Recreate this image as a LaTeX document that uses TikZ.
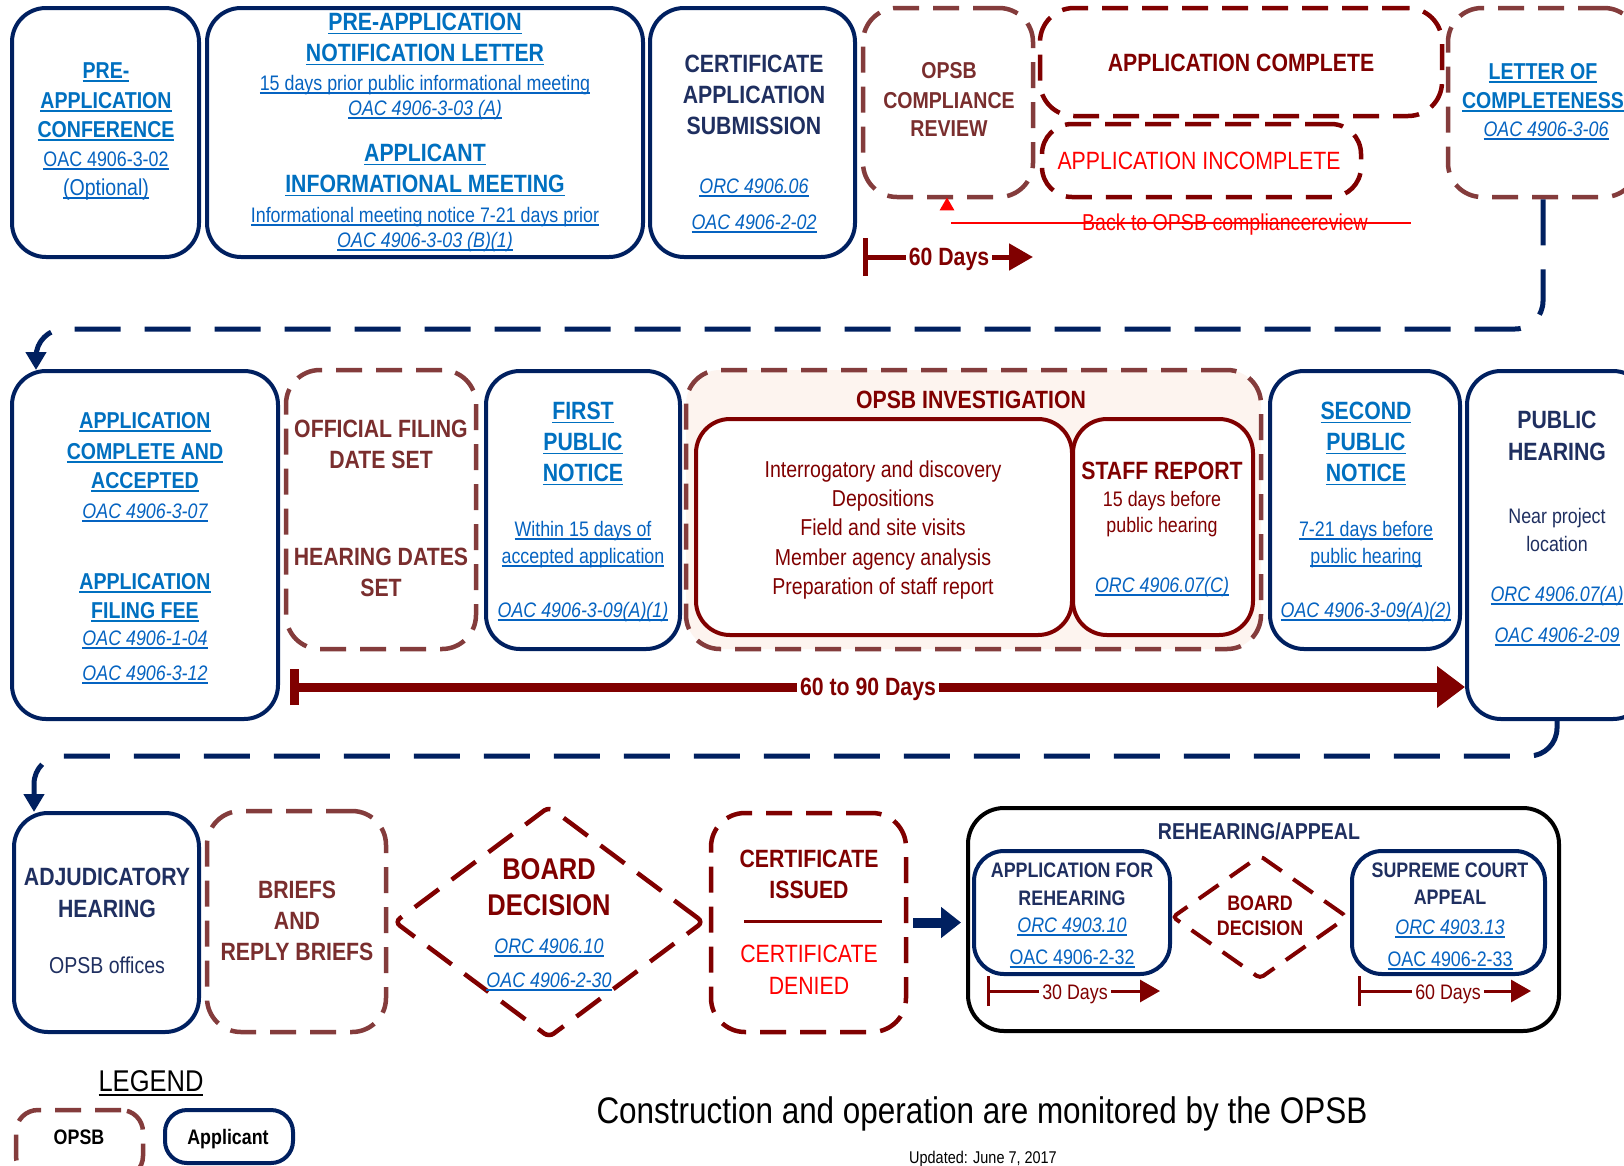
\documentclass[tikz,border=0pt]{standalone}
\usepackage{fontspec}
\setmainfont{Liberation Sans}[FakeStretch=0.85]
\usetikzlibrary{arrows.meta,shapes.geometric,fit,calc}
\definecolor{navy}{HTML}{002060}
\definecolor{navyt}{HTML}{1F2F60}
\definecolor{lnk}{HTML}{0563C1}
\definecolor{lnkh}{HTML}{0070C0}
\definecolor{dred}{HTML}{800000}
\definecolor{brn}{HTML}{843C3C}
\definecolor{brnt}{HTML}{7A2E2E}
\definecolor{bred}{HTML}{FF0000}
\definecolor{invfill}{HTML}{FDF4EF}
\newsavebox\ulbox
\newcommand\ulx[1]{\sbox\ulbox{#1}\rlap{\rule[-0.14em]{\wd\ulbox}{0.065em}}\usebox\ulbox}
\newcommand\fz[1]{\fontsize{#1}{#1}\selectfont}
\newcommand\mytx[5]{\node[tx,#4] (#1) at (#2,#3) {#5};}
\newcommand\myul[5]{\node[tx,#4] (#1) at (#2,#3) {\ulx{#5}};}
\begin{document}
\begin{tikzpicture}[x=1pt,y=-1pt,
  abox/.style={draw=navy, line width=4pt, rounded corners=34pt, inner sep=0pt},
  obox/.style={draw=brn, line width=4.5pt, dash pattern=on 26pt off 14pt, rounded corners=34pt, inner sep=0pt},
  rbox/.style={obox, draw=dred},
  rsol/.style={draw=dred, line width=4pt, rounded corners=34pt, inner sep=0pt, fill=white},
  tx/.style={anchor=mid, inner sep=0pt, yshift=-6pt},
  lh/.style={text=lnkh, font=\fz{#1}\bfseries}, lh/.default=25,
  lr/.style={text=lnk, font=\fz{#1}}, lr/.default=21,
  li/.style={text=lnk, font=\fz{#1}\itshape}, li/.default=21,
  nh/.style={text=navyt, font=\fz{#1}\bfseries}, nh/.default=25,
  nr/.style={text=navyt, font=\fz{#1}}, nr/.default=21,
  rh/.style={text=dred, font=\fz{#1}\bfseries}, rh/.default=25,
  rr/.style={text=dred, font=\fz{#1}}, rr/.default=23,
  bh/.style={text=brnt, font=\fz{#1}\bfseries}, bh/.default=25,
  brr/.style={text=bred, font=\fz{#1}}, brr/.default=25,
  conn/.style={draw=navy, line width=5pt, dash pattern=on 46pt off 24pt, rounded corners=28pt, -{Triangle[length=18pt,width=20pt]}},
  durA/.style={draw=dred, line width=5pt, {Bar[width=38pt]}-{Triangle[length=24pt,width=26pt]}},
  durB/.style={draw=dred, line width=9pt, {Bar[width=36pt]}-{Triangle[length=28pt,width=40pt]}},
  durC/.style={draw=dred, line width=3pt, {Bar[width=30pt]}-{Triangle[length=20pt,width=22pt]}},
  lab/.style={fill=white, inner xsep=3pt, inner ysep=2pt}
]
\path[use as bounding box] (0,0) rectangle (1624,1165);
\clip (0,0) rectangle (1624,1165);
\fill[white] (0,0) rectangle (1624,1165);

% ---------------- Row 1 ----------------
\node[abox, fit={(12,8) (199,257)}] (pac) {};
\node[abox, fit={(207,8) (643,257)}] (pan) {};
\node[abox, fit={(650,8) (855,257)}] (cas) {};
\node[obox, fit={(863,8) (1033,197)}] (ocr) {};
\node[rbox, fit={(1040,8) (1442,116)}] (acm) {};
\node[rbox, fit={(1042,124) (1361,197)}, rounded corners=30pt] (aic) {};
\node[obox, fit={(1448,8) (1638,197)}] (loc) {};

\myul{t1}{106}{70}{lh=23}{PRE-}
\myul{t2}{106}{100}{lh=23}{APPLICATION}
\myul{t3}{106}{129}{lh=23}{CONFERENCE}
\myul{t4}{106}{158}{lr=21}{OAC 4906-3-02}
\myul{t5}{106}{187}{lr=23}{(Optional)}

\myul{t6}{425}{22}{lh}{PRE-APPLICATION}
\myul{t7}{425}{53}{lh}{NOTIFICATION LETTER}
\myul{t8}{425}{82}{lr}{15 days prior public informational meeting}
\myul{t9}{425}{107}{li}{OAC 4906-3-03 (A)}
\myul{t10}{425}{153}{lh}{APPLICANT}
\myul{t11}{425}{184}{lh}{INFORMATIONAL MEETING}
\myul{t12}{425}{214}{lr}{Informational meeting notice 7-21 days prior}
\myul{t13}{425}{239}{li}{OAC 4906-3-03 (B)(1)}

\mytx{t14}{754}{64}{nh}{CERTIFICATE}
\mytx{t15}{754}{95}{nh}{APPLICATION}
\mytx{t16}{754}{126}{nh}{SUBMISSION}
\myul{t17}{754}{185}{li}{ORC 4906.06}
\myul{t18}{754}{221}{li}{OAC 4906-2-02}

\mytx{t19}{949}{70}{bh=23}{OPSB}
\mytx{t20}{949}{100}{bh=23}{COMPLIANCE}
\mytx{t21}{949}{128}{bh=23}{REVIEW}
\mytx{t22}{1241}{63}{rh}{APPLICATION COMPLETE}
\mytx{t23}{1199}{161}{brr}{APPLICATION INCOMPLETE}
\myul{t24}{1543}{71}{lh=23}{LETTER OF}
\myul{t25}{1543}{100}{lh=23}{COMPLETENESS}
\myul{t26}{1546}{128}{li}{OAC 4906-3-06}

% back to compliance review
\node[regular polygon, regular polygon sides=3, fill=bred, minimum size=17pt, inner sep=0pt] (tri) at (947,206) {};
\coordinate (bk1) at (951,223);
\coordinate (bk2) at (1411,223);
\draw[bred, line width=1.5pt] (bk1) -- (bk2);
\mytx{t27}{1225}{222}{brr=23}{Back to OPSB compliancereview}

% 60 days
\coordinate (d1s) at (863,257);
\coordinate (d1e) at (1033,257);
\draw[durA] (d1s) -- (d1e);
\mytx{t28}{949}{257}{rh, lab}{60 Days}

% connector row1 -> row2
\coordinate (h1) at (0,329);
\coordinate (c1e) at (36,370);
\draw[conn] (loc.south) -- (loc.south |- h1) -- (c1e |- h1) -- (c1e);

% ---------------- Row 2 ----------------
\node[abox, fit={(12,371) (278,719)}] (aca) {};
\node[obox, fit={(286,370) (476,649)}] (ofd) {};
\node[abox, fit={(486,371) (680,649)}] (fpn) {};
\node[obox, fit={(686,370) (1261,649)}, fill=invfill] (inv) {};
\node[rsol, fit={(696,419) (1072,635)}] (ivl) {};
\node[rsol, fit={(1073,419) (1253,635)}] (srp) {};
\node[abox, fit={(1270,371) (1460,649)}] (spn) {};
\node[abox, fit={(1467,371) (1647,719)}] (phr) {};

\myul{t29}{145}{420}{lh=23}{APPLICATION}
\myul{t30}{145}{451}{lh=23}{COMPLETE AND}
\myul{t31}{145}{480}{lh=23}{ACCEPTED}
\myul{t32}{145}{510}{li}{OAC 4906-3-07}
\myul{t33}{145}{581}{lh=23}{APPLICATION}
\myul{t34}{145}{610}{lh=23}{FILING FEE}
\myul{t35}{145}{637}{li}{OAC 4906-1-04}
\myul{t36}{145}{672}{li}{OAC 4906-3-12}

\mytx{t37}{381}{429}{bh}{OFFICIAL FILING}
\mytx{t38}{381}{460}{bh}{DATE SET}
\mytx{t39}{381}{557}{bh}{HEARING DATES}
\mytx{t40}{381}{588}{bh}{SET}

\myul{t41}{583}{411}{lh}{FIRST}
\myul{t42}{583}{442}{lh}{PUBLIC}
\myul{t43}{583}{473}{lh}{NOTICE}
\myul{t44}{583}{528}{lr}{Within 15 days of}
\myul{t45}{583}{555}{lr}{accepted application}
\myul{t46}{583}{609}{li}{OAC 4906-3-09(A)(1)}

\mytx{t47}{971}{400}{rh}{OPSB INVESTIGATION}
\mytx{t48}{883}{469}{rr}{Interrogatory and discovery}
\mytx{t49}{883}{498}{rr}{Depositions}
\mytx{t50}{883}{527}{rr}{Field and site visits}
\mytx{t51}{883}{557}{rr}{Member agency analysis}
\mytx{t52}{883}{586}{rr}{Preparation of staff report}
\mytx{t53}{1162}{471}{rh}{STAFF REPORT}
\mytx{t54}{1162}{498}{rr=21}{15 days before}
\mytx{t55}{1162}{524}{rr=21}{public hearing}
\myul{t56}{1162}{584}{li}{ORC 4906.07(C)}

\myul{t57}{1366}{411}{lh}{SECOND}
\myul{t58}{1366}{442}{lh}{PUBLIC}
\myul{t59}{1366}{473}{lh}{NOTICE}
\myul{t60}{1366}{528}{lr}{7-21 days before}
\myul{t61}{1366}{555}{lr}{public hearing}
\myul{t62}{1366}{609}{li}{OAC 4906-3-09(A)(2)}

\mytx{t63}{1557}{420}{nh}{PUBLIC}
\mytx{t64}{1557}{452}{nh}{HEARING}
\mytx{t65}{1557}{515}{nr}{Near project}
\mytx{t66}{1557}{543}{nr}{location}
\myul{t67}{1557}{593}{li}{ORC 4906.07(A)}
\myul{t68}{1557}{634}{li}{OAC 4906-2-09}

% 60 to 90 days
\coordinate (e1s) at (290,687);
\draw[durB] (e1s) -- (phr.west |- e1s);
\mytx{t69}{868}{687}{rh, lab}{60 to 90 Days}

% connector row2 -> row3
\coordinate (h2) at (0,756);
\coordinate (c2e) at (34,812);
\draw[conn] (phr.south) -- (phr.south |- h2) -- (c2e |- h2) -- (c2e);

% ---------------- Row 3 ----------------
\node[abox, fit={(14,813) (199,1032)}] (adj) {};
\node[obox, fit={(207,811) (386,1032)}] (brf) {};
\node[diamond, draw=dred, line width=4.5pt, dash pattern=on 30pt off 16pt, rounded corners=6pt,
      minimum width=310pt, minimum height=232pt, inner sep=0pt] (bdd) at (549,922) {};
\node[rbox, fit={(711,813) (906,1032)}] (cer) {};
\node[draw=black, line width=4pt, rounded corners=36pt, inner sep=0pt, fit={(968,808) (1559,1031)}] (reh) {};
\node[abox, rounded corners=30pt, fit={(974,851) (1170,974)}] (afr) {};
\node[diamond, draw=dred, line width=4pt, dash pattern=on 24pt off 14pt, rounded corners=4pt,
      minimum width=176pt, minimum height=124pt, inner sep=0pt] (sbd) at (1260,917) {};
\node[abox, rounded corners=30pt, fit={(1352,851) (1545,974)}] (sca) {};

\mytx{t70}{107}{877}{nh}{ADJUDICATORY}
\mytx{t71}{107}{909}{nh}{HEARING}
\mytx{t72}{107}{965}{nr=23}{OPSB offices}

\mytx{t73}{297}{890}{bh}{BRIEFS}
\mytx{t74}{297}{921}{bh}{AND}
\mytx{t75}{297}{952}{bh}{REPLY BRIEFS}

\mytx{t76}{549}{870}{rh=30, yshift=-1pt}{BOARD}
\mytx{t77}{549}{906}{rh=30, yshift=-1pt}{DECISION}
\myul{t78}{549}{945}{li}{ORC 4906.10}
\myul{t79}{549}{979}{li}{OAC 4906-2-30}

\mytx{t80}{809}{859}{rh}{CERTIFICATE}
\mytx{t81}{809}{890}{rh}{ISSUED}
\coordinate (cd1) at (744,921);
\coordinate (cd2) at (882,921);
\draw[dred, line width=3pt] (cd1) -- (cd2);
\mytx{t82}{809}{954}{brr}{CERTIFICATE}
\mytx{t83}{809}{986}{brr}{DENIED}

\draw[navy, line width=10pt, -{Triangle[length=20pt,width=30pt]}, shorten <=5pt, shorten >=5pt]
  (cer.east) -- (cer.east -| reh.west);

\mytx{t84}{1259}{831}{nh=23}{REHEARING/APPEAL}
\mytx{t85}{1072}{869}{nh=21}{APPLICATION FOR}
\mytx{t86}{1072}{897}{nh=21}{REHEARING}
\myul{t87}{1072}{924}{li}{ORC 4903.10}
\myul{t88}{1072}{956}{lr}{OAC 4906-2-32}
\mytx{t89}{1260}{902}{rh=21}{BOARD}
\mytx{t90}{1260}{927}{rh=21}{DECISION}
\mytx{t91}{1450}{869}{nh=21}{SUPREME COURT}
\mytx{t92}{1450}{896}{nh=21}{APPEAL}
\myul{t93}{1450}{926}{li}{ORC 4903.13}
\myul{t94}{1450}{958}{lr}{OAC 4906-2-33}

\coordinate (f1s) at (987,991);
\coordinate (f1e) at (1160,991);
\draw[durC] (f1s) -- (f1e);
\mytx{t95}{1075}{991}{rr=21, lab}{30 Days}
\coordinate (f2s) at (1358,991);
\coordinate (f2e) at (1531,991);
\draw[durC] (f2s) -- (f2e);
\mytx{t96}{1448}{991}{rr=21, lab}{60 Days}

% ---------------- Legend & footer ----------------
\myul{t97}{151}{1081}{text=black, font=\fz{30}, yshift=-2pt}{LEGEND}
\node[obox, rounded corners=22pt, fit={(16,1110) (143,1178)}] (lgo) {};
\node[abox, rounded corners=22pt, fit={(165,1110) (293,1163)}] (lga) {};
\mytx{t98}{79}{1136}{text=black, font=\fz{21}\bfseries}{OPSB}
\mytx{t99}{228}{1136}{text=black, font=\fz{21}\bfseries}{Applicant}
\mytx{t100}{982}{1112}{text=black, font=\fz{37}, yshift=-3pt}{Construction and operation are monitored by the OPSB}
\mytx{t101}{983}{1157}{text=black, font=\fz{17}, yshift=2pt}{Updated: June 7, 2017}
\end{tikzpicture}
\end{document}
